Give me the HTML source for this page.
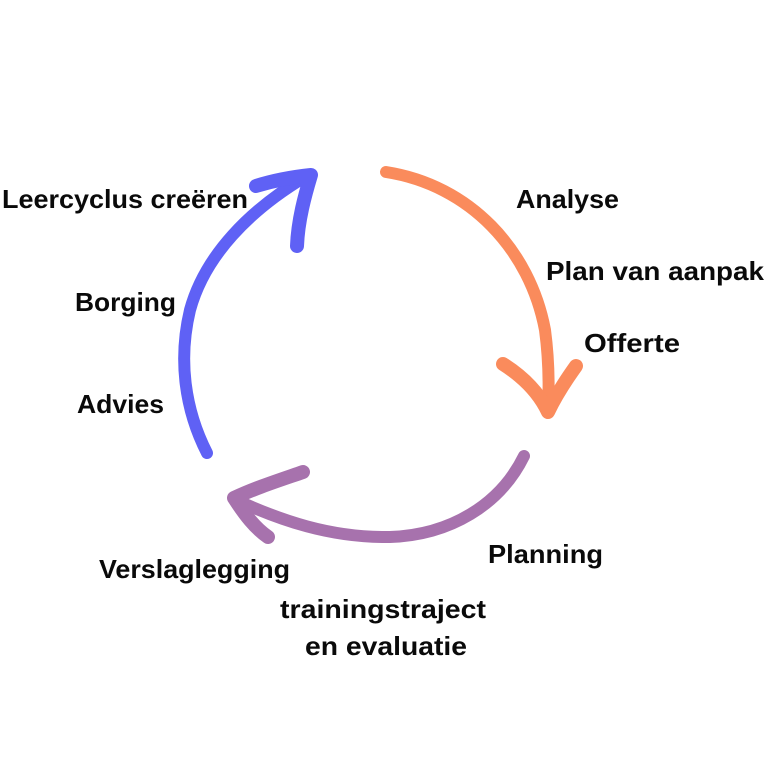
<!DOCTYPE html>
<html><head><meta charset="utf-8"><style>
html,body{margin:0;padding:0;background:#fff;}
svg{display:block;}
text{font-family:"Liberation Sans",sans-serif;font-weight:bold;font-size:26px;fill:#0a0a0a;}
</style></head><body>
<svg width="768" height="768" viewBox="0 0 768 768" xmlns="http://www.w3.org/2000/svg">
<g fill="none" stroke-linecap="round" stroke-linejoin="round">
<path d="M386 172 C470 185 530 250 545 330 C549 360 549 390 548 410" stroke="#fa8b5c" stroke-width="12"/>
<path d="M503 364 C525 378 540 395 548 412 C556 395 566 380 576 366" stroke="#fa8b5c" stroke-width="14"/>
<path d="M207 453 C185 410 178 360 190 310 C205 255 250 210 305 177" stroke="#5f61f5" stroke-width="12"/>
<path d="M256 186 C275 180 292 177 311 175 C305 195 298 220 297 246" stroke="#5f61f5" stroke-width="14"/>
<path d="M524 456 C500 505 450 535 390 537 C330 538 280 520 236 500" stroke="#a772ad" stroke-width="12"/>
<path d="M303 472 C280 480 255 488 234 498 C245 515 255 528 268 537" stroke="#a772ad" stroke-width="14"/>
</g>
<text x="2" y="208" textLength="246" lengthAdjust="spacingAndGlyphs">Leercyclus creëren</text>
<text x="516" y="208" textLength="103" lengthAdjust="spacingAndGlyphs">Analyse</text>
<text x="546" y="280" textLength="218" lengthAdjust="spacingAndGlyphs">Plan van aanpak</text>
<text x="584" y="352" textLength="96" lengthAdjust="spacingAndGlyphs">Offerte</text>
<text x="75" y="311" textLength="101" lengthAdjust="spacingAndGlyphs">Borging</text>
<text x="77" y="413" textLength="87" lengthAdjust="spacingAndGlyphs">Advies</text>
<text x="488" y="563" textLength="115" lengthAdjust="spacingAndGlyphs">Planning</text>
<text x="99" y="578" textLength="191" lengthAdjust="spacingAndGlyphs">Verslaglegging</text>
<text x="280" y="618" textLength="206" lengthAdjust="spacingAndGlyphs">trainingstraject</text>
<text x="305" y="655" textLength="162" lengthAdjust="spacingAndGlyphs">en evaluatie</text>
</svg>
</body></html>
